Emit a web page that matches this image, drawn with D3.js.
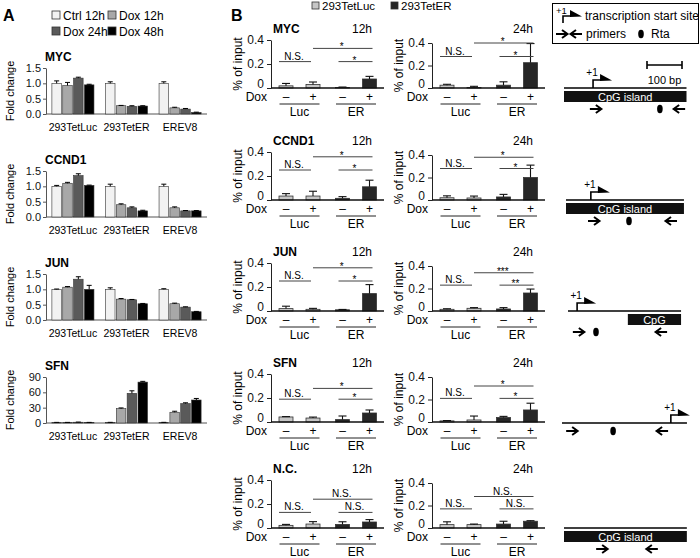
<!DOCTYPE html>
<html><head><meta charset="utf-8">
<script src="https://cdn.jsdelivr.net/npm/d3@7"></script>
<style>
body{margin:0;background:#fff;}
svg{display:block;font-family:Arial,"Liberation Sans",Helvetica,sans-serif;}
</style></head><body>
<svg id="chart" width="700" height="558"></svg>
<script>
// ---------------- Panel A data ----------------
const cellLines = ["293TetLuc","293TetER","EREV8"];
const treatments = ["Ctrl 12h","Dox 12h","Dox 24h","Dox 48h"];
const genesA = ["MYC","CCND1","JUN","SFN"];
const foldMYC   = [[1.00,0.93,1.17,0.95],[1.00,0.27,0.25,0.26],[1.00,0.20,0.16,0.05]];
const errMYC    = [[0.08,0.10,0.03,0.02],[0.05,0.01,0.02,0.01],[0.05,0.02,0.02,0.01]];
const foldCCND1 = [[1.00,1.10,1.35,1.03],[1.00,0.40,0.30,0.20],[1.00,0.30,0.20,0.20]];
const errCCND1  = [[0.03,0.03,0.06,0.01],[0.07,0.03,0.03,0.02],[0.07,0.03,0.01,0.01]];
const foldJUN   = [[1.00,1.07,1.33,1.00],[1.00,0.68,0.66,0.53],[1.00,0.53,0.42,0.27]];
const errJUN    = [[0.01,0.02,0.08,0.13],[0.05,0.02,0.01,0.01],[0.02,0.02,0.01,0.01]];
const foldSFN   = [[1,1,1.5,1],[1,28,58,80],[1,21,38,45]];
const errSFN    = [[0.2,0.2,0.3,0.2],[0.3,1.5,5,1.5],[0.3,2,1.5,3]];
const yTicksA = [[0,0.5,1.0,1.5],[0,0.5,1.0,1.5],[0,0.5,1.0,1.5],[0,30,60,90]];
const yMaxA = [1.5,1.5,1.5,90];

// ---------------- Panel B data ----------------
const genesB = ["MYC","CCND1","JUN","SFN","N.C."];
const timepoints = ["12h","24h"];
const cellsB = ["Luc","ER"];
const doxStates = ["\u2013","+"];
const seriesB = ["293TetLuc","293TetER"];
// order per gene: Luc-, Luc+, ER-, ER+
const pct12h = [[0.018,0.030,0.005,0.075],[0.033,0.033,0.014,0.110],[0.020,0.014,0.010,0.145],[0.042,0.033,0.020,0.075],[0.022,0.033,0.030,0.050]];
const err12h = [[0.020,0.020,0.003,0.022],[0.020,0.040,0.014,0.055],[0.020,0.008,0.003,0.075],[0.003,0.008,0.030,0.025],[0.008,0.020,0.022,0.020]];
const pct24h = [[0.025,0.005,0.025,0.225],[0.020,0.018,0.027,0.200],[0.015,0.024,0.018,0.160],[0.010,0.018,0.040,0.107],[0.030,0.030,0.035,0.060]];
const err24h = [[0.008,0.010,0.030,0.170],[0.017,0.017,0.023,0.110],[0.005,0.006,0.012,0.035],[0.003,0.035,0.010,0.060],[0.025,0.005,0.025,0.005]];
const sigLuc = "N.S.";
const sigUpper12h = ["*","*","*","*","N.S."];
const sigLower12h = ["*","*","*","*","N.S."];
const sigUpper24h = ["*","*","***","*","N.S."];
const sigLower24h = ["*","*","**","*","N.S."];
const sigHighY12h = [0.33,0.36,0.36,0.28,0.24];
const sigLowY12h  = [0.22,0.25,0.25,0.19,0.13];
const sigHighY24h = [0.40,0.38,0.34,0.32,0.28];
const sigLowY24h  = [0.28,0.28,0.23,0.21,0.17];
const yTicksB = [0,0.2,0.4];

// ---------------- Schematic data (bp) ----------------
const schemLength = [350,337,323,357,351];
const schemCpG = [[0,350],[0,337],[171,323],null,[0,351]];
const schemCpGLabel = ["CpG island","CpG island","CpG",null,"CpG island"];
const schemTSS = [83,71,26,311,null];
const schemFwd = [91,80,31,29,109];
const schemRev = [329,300,266,286,251];
const schemRta = [274,180,80,146,null];
const scaleBarBp = 100;

// =====================================================
const svg = d3.select("#chart");
const colorsA = ["#f2f2f2","#a8a8a8","#5a5a5a","#000000"];
const colorsB = ["#c6c6c6","#262626"];

svg.append("text").attr("x",3).attr("y",21).attr("font-size",16).attr("font-weight","bold").text("A");
svg.append("text").attr("x",231).attr("y",21).attr("font-size",16).attr("font-weight","bold").text("B");

// Legend A
treatments.forEach((t,i)=>{
  const col=i%2,row=Math.floor(i/2);
  const x=52+col*56,y=11+row*16;
  svg.append("rect").attr("x",x).attr("y",y).attr("width",8).attr("height",8)
    .attr("fill",colorsA[i]).attr("stroke","#333").attr("stroke-width",0.8);
  svg.append("text").attr("x",x+11).attr("y",y+8.5).attr("font-size",12).text(t);
});

// Panel A subplots
const foldData=[foldMYC,foldCCND1,foldJUN,foldSFN];
const errData=[errMYC,errCCND1,errJUN,errSFN];
const aBottoms=[114,217,320,423];
const xA = d3.scaleBand().domain(cellLines).range([46,207]).paddingInner(0.215).paddingOuter(0.11);
const xAi = d3.scaleBand().domain(treatments).range([0,xA.bandwidth()]).paddingInner(0.12);
genesA.forEach((g,gi)=>{
  const bottom=aBottoms[gi], top=bottom-46;
  const y=d3.scaleLinear().domain([0,yMaxA[gi]]).range([bottom,top]);
  const G=svg.append("g");
  G.append("text").attr("x",45).attr("y",top-7).attr("font-size",12).attr("font-weight","bold").text(g);
  G.append("text").attr("transform",`translate(14,${bottom-23}) rotate(-90)`).attr("text-anchor","middle")
    .attr("font-size",11).text("Fold change");
  const ax=G.append("g").attr("transform","translate(46,0)")
    .call(d3.axisLeft(y).tickValues(yTicksA[gi]).tickSize(3).tickSizeOuter(0).tickPadding(2)
      .tickFormat(gi<3?d3.format(".1f"):d3.format("d")));
  ax.selectAll("text").attr("font-size",11).attr("fill","#111").attr("font-family","Arial,Liberation Sans,sans-serif");
  ax.selectAll("line,path").attr("stroke","#555");
  G.append("line").attr("x1",46).attr("x2",207).attr("y1",bottom).attr("y2",bottom).attr("stroke","#555");
  cellLines.forEach((c,ci)=>{
    G.append("text").attr("x",xA(c)+xA.bandwidth()/2).attr("y",bottom+17).attr("text-anchor","middle")
      .attr("font-size",10.5).text(c);
    treatments.forEach((t,ti)=>{
      const v=foldData[gi][ci][ti], e=errData[gi][ci][ti];
      const bx=xA(c)+xAi(t), bw=xAi.bandwidth();
      G.append("rect").attr("x",bx).attr("y",y(v)).attr("width",bw).attr("height",bottom-y(v))
        .attr("fill",colorsA[ti]).attr("stroke","#333").attr("stroke-width",0.6);
      const cx=bx+bw/2;
      G.append("line").attr("x1",cx).attr("x2",cx).attr("y1",y(v)).attr("y2",y(v+e)).attr("stroke","#000");
      G.append("line").attr("x1",cx-2.5).attr("x2",cx+2.5).attr("y1",y(v+e)).attr("y2",y(v+e)).attr("stroke","#000");
    });
  });
});

// Legend B
seriesB.forEach((s,i)=>{
  const x=312+i*79;
  svg.append("rect").attr("x",x).attr("y",2).attr("width",7).attr("height",7)
    .attr("fill",colorsB[i]).attr("stroke","#333").attr("stroke-width",0.8);
  svg.append("text").attr("x",x+10).attr("y",10).attr("font-size",11.5).text(s);
});

// Panel B subplots
const bBottoms=[88,200,311,422,528];
const colX=[271,432];
const colH=[48,45];
const pctData=[pct12h,pct24h], errBData=[err12h,err24h];
const sigUp=[sigUpper12h,sigUpper24h], sigLo=[sigLower12h,sigLower24h];
const sigHY=[sigHighY12h,sigHighY24h], sigLY=[sigLowY12h,sigLowY24h];
const xGroup=d3.scalePoint().domain(cellsB).range([28.5,85]);
const xSub=d3.scalePoint().domain(doxStates).range([-13.5,13.5]);
const barW=14;
genesB.forEach((g,gi)=>{
  timepoints.forEach((tp,ti)=>{
    const ox=colX[ti], bottom=bBottoms[gi], top=bottom-colH[ti];
    const y=d3.scaleLinear().domain([0,0.4]).range([bottom,top]);
    const G=svg.append("g");
    const bxc=(ci,di)=>ox+xGroup(cellsB[ci])+xSub(doxStates[di]);
    if(ti===0) G.append("text").attr("x",ox+2).attr("y",bottom-55).attr("font-size",12).attr("font-weight","bold").text(g);
    G.append("text").attr("x",ox+101).attr("y",bottom-55).attr("font-size",12).attr("text-anchor","end").text(tp);
    G.append("text").attr("transform",`translate(${ox-29},${bottom-colH[ti]/2}) rotate(-90)`)
      .attr("text-anchor","middle").attr("font-size",12).text("% of input");
    const ax=G.append("g").attr("transform",`translate(${ox},0)`)
      .call(d3.axisLeft(y).tickValues(yTicksB).tickSize(4).tickSizeOuter(0).tickPadding(3)
        .tickFormat(d=>d===0?"0":d3.format(".1f")(d)));
    ax.selectAll("text").attr("font-size",12).attr("fill","#111").attr("font-family","Arial,Liberation Sans,sans-serif");
    ax.selectAll("text").filter(d=>d===0).attr("dy","-0.05em");
    ax.selectAll("line,path").attr("stroke","#222");
    // bars
    cellsB.forEach((c,ci)=>{
      doxStates.forEach((d,di)=>{
        const k=ci*2+di, v=pctData[ti][gi][k], e=errBData[ti][gi][k];
        const cx=bxc(ci,di);
        G.append("rect").attr("x",cx-barW/2).attr("y",y(v)).attr("width",barW).attr("height",bottom-y(v))
          .attr("fill",colorsB[ci]).attr("stroke","#333").attr("stroke-width",0.8);
        G.append("line").attr("x1",cx).attr("x2",cx).attr("y1",y(v)).attr("y2",y(v+e)).attr("stroke","#111").attr("stroke-width",1.1);
        G.append("line").attr("x1",cx-4).attr("x2",cx+4).attr("y1",y(v+e)).attr("y2",y(v+e)).attr("stroke","#111").attr("stroke-width",1.1);
        G.append("text").attr("x",cx).attr("y",bottom+13).attr("text-anchor","middle").attr("font-size",12).text(d);
      });
      const gc=ox+xGroup(c);
      G.append("line").attr("x1",gc-20).attr("x2",gc+20).attr("y1",bottom+16).attr("y2",bottom+16).attr("stroke","#222");
      G.append("text").attr("x",gc).attr("y",bottom+28).attr("text-anchor","middle").attr("font-size",12).text(c);
    });
    G.append("line").attr("x1",ox).attr("x2",ox+113).attr("y1",bottom).attr("y2",bottom).attr("stroke","#111").attr("stroke-width",1.4);
    G.append("text").attr("x",ox-4).attr("y",bottom+13).attr("text-anchor","end").attr("font-size",12).text("Dox");
    // significance
    const sigs=[
      {x1:bxc(0,0)-barW/2, x2:bxc(0,1)-2, v:sigLY[ti][gi], lab:sigLuc},
      {x1:bxc(0,1), x2:bxc(1,1)+3, v:sigHY[ti][gi], lab:sigUp[ti][gi]},
      {x1:bxc(1,0)-4, x2:bxc(1,1)+3, v:sigLY[ti][gi], lab:sigLo[ti][gi]}
    ];
    sigs.forEach(s=>{
      const yy=y(s.v);
      G.append("line").attr("x1",s.x1).attr("x2",s.x2).attr("y1",yy).attr("y2",yy).attr("stroke","#444");
      const ns=s.lab.indexOf("N")===0;
      G.append("text").attr("x",(s.x1+s.x2)/2-1).attr("y",ns?yy-2:yy+2).attr("text-anchor","middle")
        .attr("font-size",10).text(s.lab);
    });
  });
});

// ---------------- Schematic ----------------
const bpScale=d3.scaleLinear().domain([0,100]).range([0,35]);
const schemX0=[564,566,568,562,564];
function tss(G,x,y,h){
  G.append("path").attr("d",`M${x},${y} V${y-h} H${x+8}`).attr("fill","none").attr("stroke","#000").attr("stroke-width",1.6);
  G.append("path").attr("d",`M${x+7},${y-h-6} L${x+7},${y-h+1} L${x+19},${y-h+0.5} Z`).attr("fill","#000");
}
function arrow(G,x,y,dir){
  G.append("path").attr("d",`M${x-6*dir},${y} H${x+5*dir} M${x},${y-4} L${x+5.5*dir},${y} L${x},${y+4}`)
    .attr("fill","none").attr("stroke","#000").attr("stroke-width",2);
}
function rta(G,x,y){
  G.append("ellipse").attr("cx",x).attr("cy",y).attr("rx",2.8).attr("ry",4.2).attr("fill","#000");
}
// legend box
const L=svg.append("g");
L.append("rect").attr("x",552.5).attr("y",3.5).attr("width",146).attr("height",40).attr("fill","none").attr("stroke","#000");
tss(L,563,23,7);
L.append("text").attr("x",556).attr("y",14).attr("font-size",9.5).text("+1");
L.append("text").attr("x",585).attr("y",20).attr("font-size",12).text("transcription start site");
arrow(L,562,34,1);
arrow(L,576,34,-1);
L.append("text").attr("x",586).attr("y",38).attr("font-size",12).text("primers");
rta(L,641,34);
L.append("text").attr("x",651).attr("y",38).attr("font-size",12).text("Rta");
// scale bar
L.append("path").attr("d",`M647,61 V69 M647,65 H${647+bpScale(scaleBarBp)} M${647+bpScale(scaleBarBp)},61 V69`)
  .attr("fill","none").attr("stroke","#000").attr("stroke-width",1.6);
L.append("text").attr("x",647+bpScale(scaleBarBp)/2).attr("y",84).attr("text-anchor","middle").attr("font-size",11).text(scaleBarBp+" bp");

genesB.forEach((g,i)=>{
  const G=svg.append("g");
  const x0=schemX0[i], ly=bBottoms[i]+(i===3?1:0);
  const X=bp=>x0+bpScale(bp);
  G.append("line").attr("x1",X(0)).attr("x2",X(schemLength[i])).attr("y1",ly).attr("y2",ly).attr("stroke","#000").attr("stroke-width",1.6);
  if(schemCpG[i]){
    const c=schemCpG[i];
    G.append("rect").attr("x",X(c[0])).attr("y",ly+3).attr("width",X(c[1])-X(c[0])).attr("height",11).attr("fill","#111");
    G.append("text").attr("x",(X(c[0])+X(c[1]))/2).attr("y",ly+13).attr("text-anchor","middle")
      .attr("font-size",11).attr("fill","#fff").text(schemCpGLabel[i]);
  }
  if(schemTSS[i]!==null){
    tss(G,X(schemTSS[i]),ly,8);
    G.append("text").attr("x",X(schemTSS[i])-1).attr("y",ly-12).attr("text-anchor","middle").attr("font-size",10).text("+1");
  }
  const py=ly+(schemCpG[i]?21:8);
  arrow(G,X(schemFwd[i]),py,1);
  arrow(G,X(schemRev[i]),py,-1);
  if(schemRta[i]!==null) rta(G,X(schemRta[i]),py);
});
</script>
</body></html>
